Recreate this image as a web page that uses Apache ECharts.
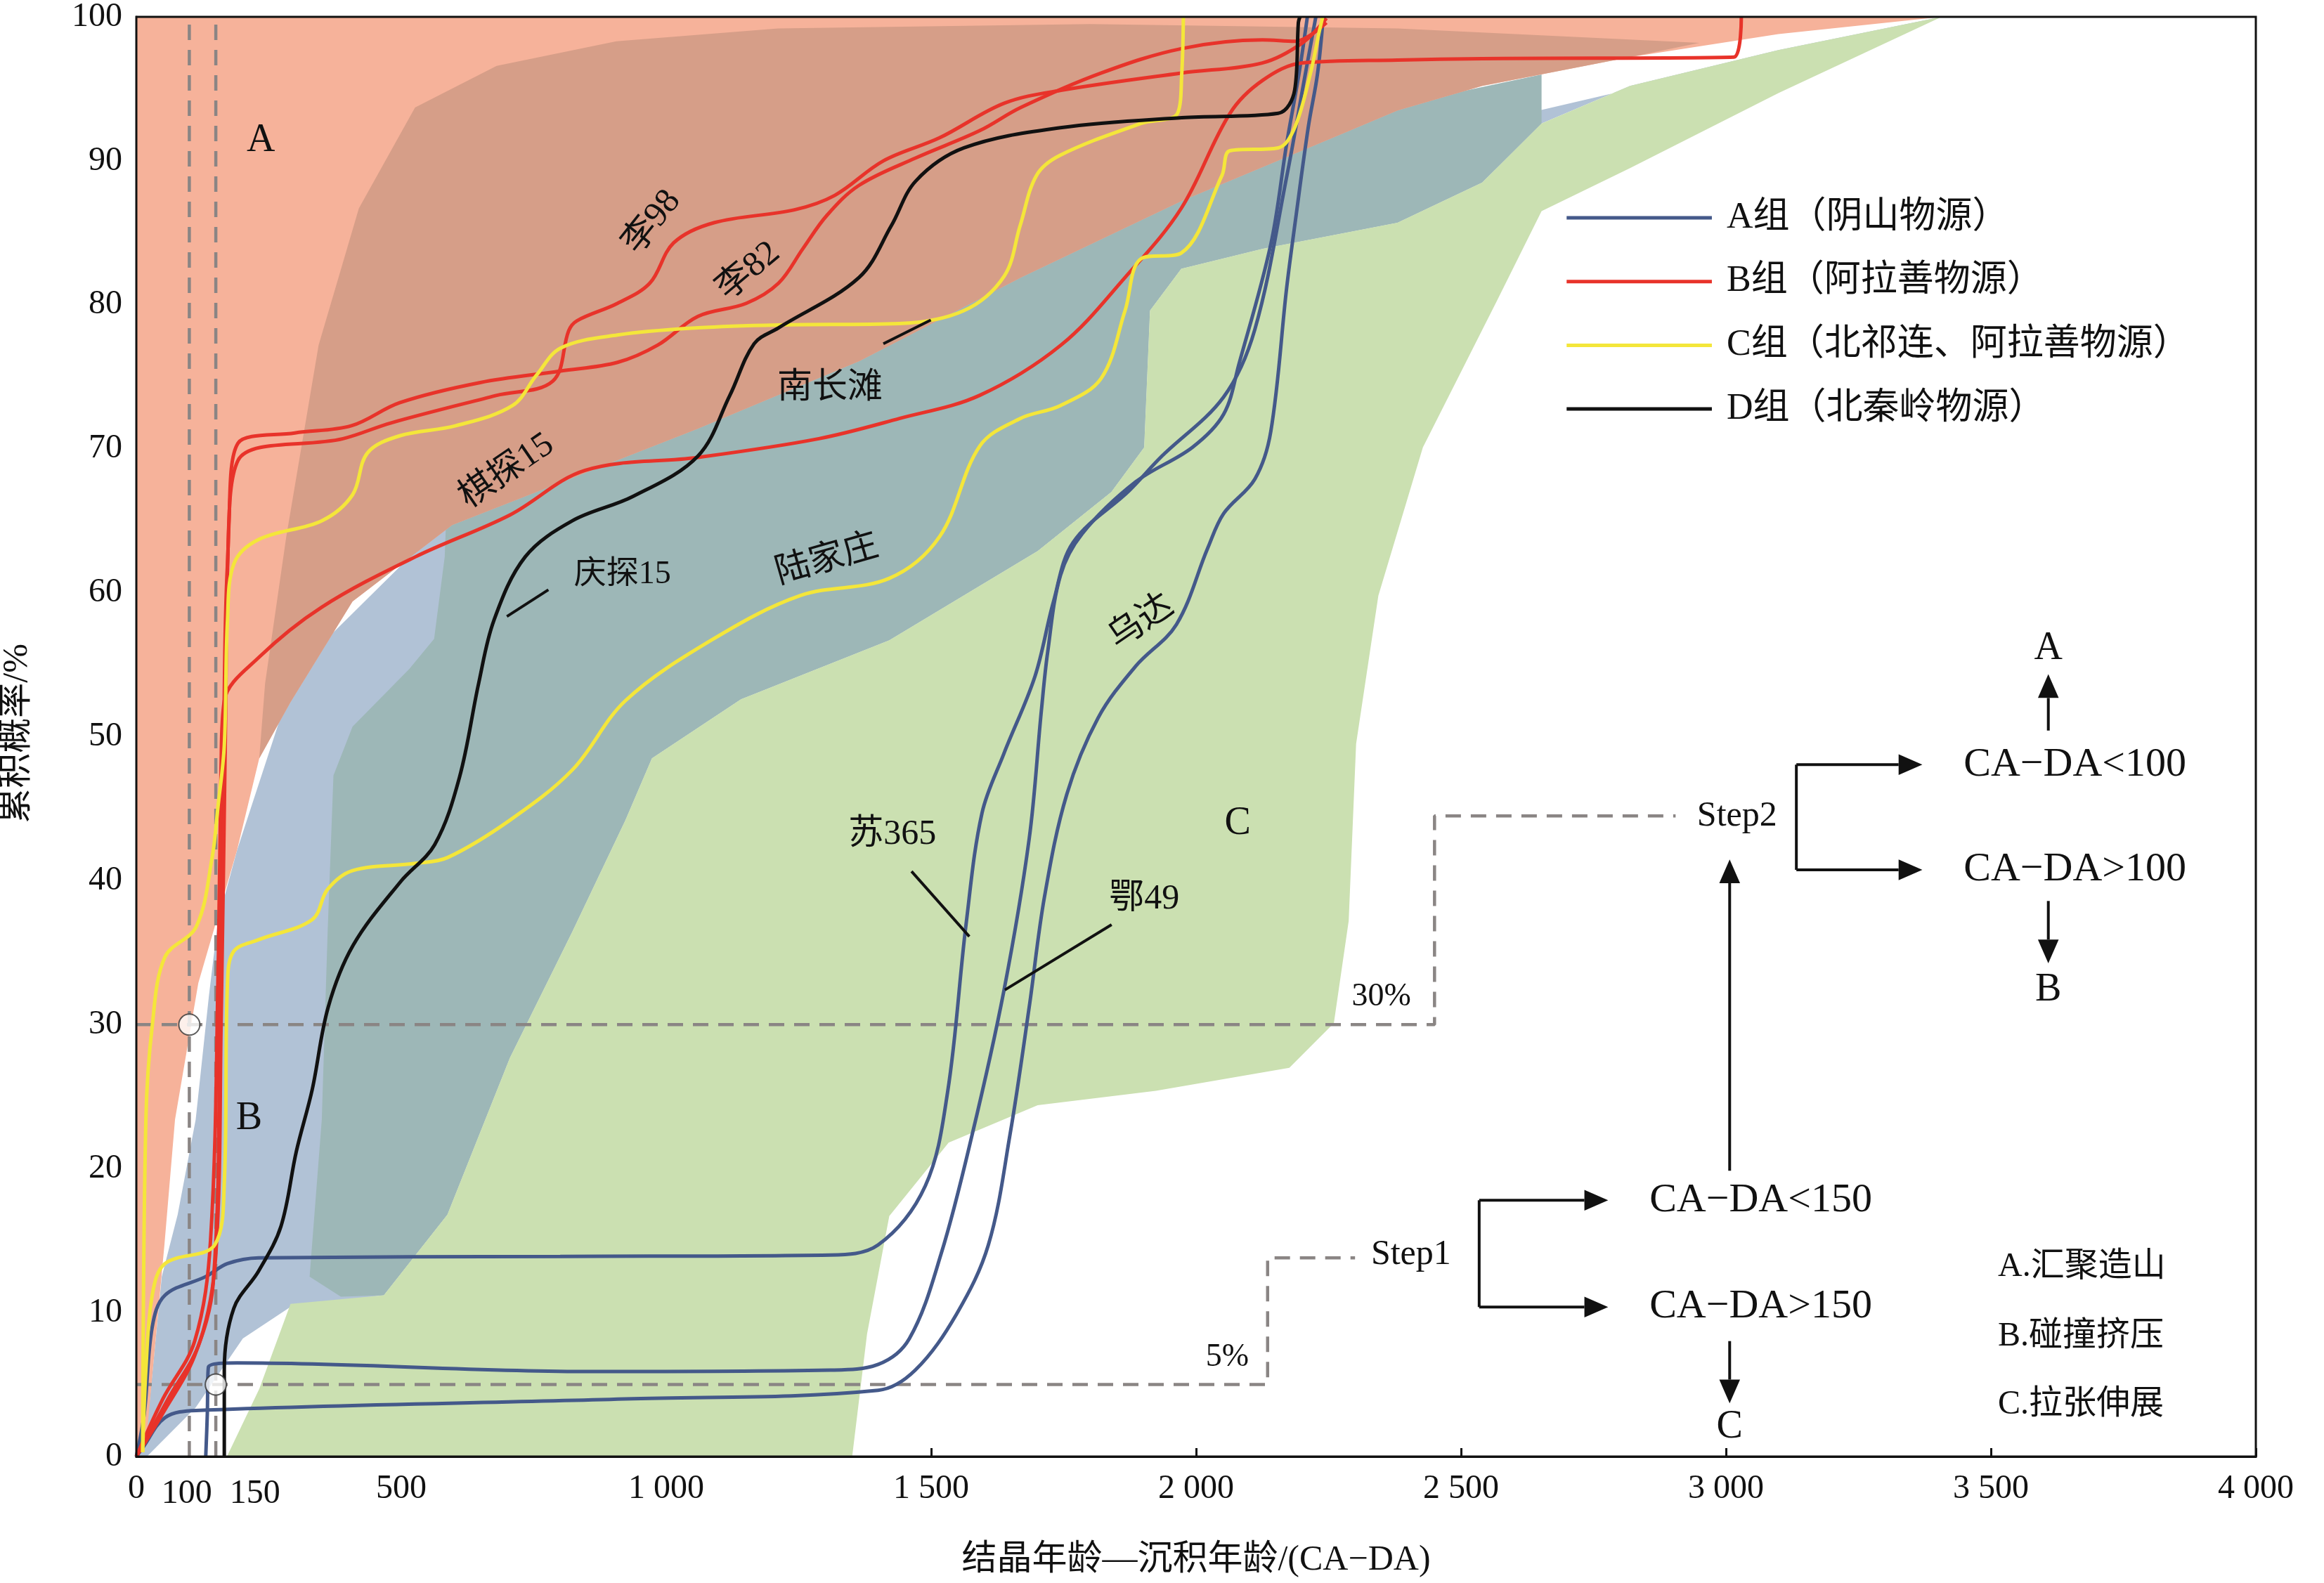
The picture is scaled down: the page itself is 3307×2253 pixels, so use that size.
<!DOCTYPE html>
<html>
<head>
<meta charset="utf-8">
<script src="https://cdn.jsdelivr.net/npm/echarts@6/dist/echarts.min.js"></script>
<style>html,body{margin:0;padding:0;background:#fff}#chart{width:3307px;height:2253px}</style>
</head>
<body>
<div id="chart"></div>
<script>
// --- areas (x = CA-DA, y = cumulative %) ---
var areas = {
  blue: [[0,0],[0,3.4],[25,3.8],[48,12.5],[78,16.8],[112,23.4],[137,32],[154,37.2],[190,42.1],[302,54.7],[582,64.9],[1701,85.4],[3407,100],
    [3099,97.7],[2819,95.2],[2652,92.6],[2540,88.5],[2380,85.7],[2126,83.9],[1972,82.5],[1913,79.6],[1902,70.1],[1840,67],[1701,62.9],[1421,56.7],[1141,52.6],[973,48.5],[923,44.2],[822,36.4],[705,27.7],[587,16.8],[467,11.2],
    [291,10.4],[201,8.2],[112,3.4],[20,0]],
  teal: [[582,62.5],[562,56.8],[515,54.7],[408,50.7],[372,47.3],[361,36.4],[350,23.4],[327,12.5],[386,11.1],[467,11.2],
    [587,16.8],[705,27.7],[822,36.4],[923,44.2],[973,48.5],[1141,52.6],[1421,56.7],[1701,62.9],[1840,67],[1902,70.1],[1913,79.6],[1972,82.5],[2126,83.9],[2380,85.7],[2540,88.5],[2652,92.6],[2652,96],[600,80]],
  salmon: [[0,100],[3407,100],[3099,98.8],[2819,97.2],[2540,95.2],[2380,93.5],[2277,91.9],[1972,87.2],[1670,81.9],[1365,76.1],[1060,71.4],[596,64.7],[408,59.4],[291,52.4],[232,48.5],[190,42.1],[117,32.9],[73,23.4],[53,14.7],[20,1.6],[0,0]],
  brown: [[680,96.6],[906,98.3],[1211,99.2],[1800,99.5],[2380,99.2],[2950,98.2],[2819,97.2],[2540,95.2],[2380,93.5],[2277,91.9],[1972,87.2],[1670,81.9],[1365,76.1],[1060,71.4],[596,64.7],[408,59.4],[291,52.4],[232,48.5],
    [243,53.7],[283,63.9],[344,77.2],[420,86.7],[526,93.7]],
  green: [[171,0],[232,4.7],[291,10.6],[467,11.2],[587,16.8],[705,27.7],[822,36.4],[923,44.2],[973,48.5],[1141,52.6],[1421,56.7],[1701,62.9],[1840,67],[1902,70.1],[1913,79.6],[1972,82.5],[2126,83.9],[2380,85.7],[2540,88.5],[2652,92.6],[2819,95.2],[3099,97.7],[3407,100],
    [3099,94.7],[2819,89.5],[2652,86.5],[2568,80.3],[2428,70.1],[2344,59.8],[2302,49.5],[2288,37.2],[2260,30.1],[2176,27],[1924,25.4],[1701,24.4],[1533,21.8],[1421,16.7],[1379,8.5],[1351,0]]
};
var areaColors = {blue:'#b1c2d6', teal:'#9db7b7', salmon:'#f6b29a', brown:'#d69e88', green:'#cbe0b1'};

// --- curves ---
var curves = [
  {g:'A', c:'#44598a', d:[[0,0],[15,3],[30,9],[54,11.2],[131,12.5],[172,13.4],[231,13.8],[800,13.9],[1309,14.0],[1400,14.7],[1489,18.8],[1531,25.3],[1566,37.0],[1596,44.7],[1637,48.8],[1696,54.2],[1731,59.4],[1768,63.5],[1874,67.1],[1933,69.4],[2052,73.6],[2111,78.3],[2171,88.9],[2206,96.0],[2226,100]]},
  {g:'A', c:'#44598a', d:[[131,0],[134,3],[136,6.2],[190,6.5],[861,5.9],[1309,6.0],[1400,6.4],[1459,8.2],[1519,14.1],[1577,22.3],[1637,32.3],[1685,42.9],[1708,51.8],[1720,55.9],[1744,61.2],[1785,64.1],[1886,67.7],[1993,70.1],[2052,72.4],[2081,75.9],[2141,84.2],[2171,91.2],[2194,96.0],[2210,100]]},
  {g:'A', c:'#44598a', d:[[0,0],[12,0.6],[54,2.7],[113,3.2],[923,4.0],[1400,4.6],[1470,6],[1548,9.9],[1608,14.7],[1649,22.4],[1685,31.2],[1714,38.9],[1756,46.0],[1815,51.3],[1886,54.9],[1963,57.8],[2022,63.1],[2052,65.5],[2111,67.9],[2141,71.2],[2171,81.2],[2188,86],[2212,92.4],[2229,96.0],[2240,100]]},
  {g:'B', c:'#e8332a', d:[[0,0],[60,4],[120,8],[150,14],[160,30],[168,50],[175,65],[192,70.4],[299,71.1],[406,71.6],[497,73.2],[649,74.6],[801,75.4],[908,76.0],[984,77.2],[1060,79.2],[1151,80.1],[1212,81.5],[1258,83.9],[1303,86.2],[1364,88.3],[1471,90.2],[1592,92.1],[1669,93.7],[1821,96.1],[1973,97.8],[2125,98.4],[2186,98.3],[2246,99.6]]},
  {g:'B', c:'#e8332a', d:[[0,0],[50,3],[110,7],[145,12],[158,30],[165,50],[172,62],[192,69.2],[390,70.7],[481,71.8],[679,73.7],[786,74.7],[816,78.2],[832,78.9],[908,80.1],[969,81.5],[1014,84.3],[1090,85.7],[1242,86.6],[1318,87.6],[1410,90.0],[1516,91.6],[1638,94.0],[1745,94.9],[1972,96.1],[2125,96.8],[2201,98.2],[2246,99.9]]},
  {g:'B', c:'#e8332a', d:[[0,0],[50,4],[110,8],[140,15],[155,35],[160,48],[166,52.5],[231,55.5],[350,59],[527,62.5],[705,65.4],[847,68.5],[1060,69.4],[1288,70.7],[1440,72.1],[1591,73.7],[1745,77.2],[1866,81.9],[1972,86.7],[2064,93.3],[2126,95.6],[2201,96.8],[2380,97.0],[2540,97.1],[3015,97.2],[3029,100]]},
  {g:'C', c:'#f4e63a', d:[[12,0.3],[18,23.4],[30,29.9],[54,34.7],[113,36.8],[143,41.6],[154,45.1],[166,49.4],[172,58.1],[184,62.0],[231,63.7],[350,65.0],[408,66.8],[436,69.7],[497,70.9],[603,71.6],[710,73.0],[755,75.1],[801,77.0],[908,77.9],[1060,78.4],[1212,78.6],[1440,78.7],[1562,79.6],[1638,82.0],[1668,85.5],[1699,89.0],[1744,90.4],[1896,92.6],[1965,93.3],[1973,96.1],[1976,100]]},
  {g:'C', c:'#f4e63a', d:[[12,0.3],[18,6.0],[30,11.2],[54,13.4],[148,14.7],[166,19.0],[172,32.9],[184,35.1],[231,35.9],[332,37.3],[361,39.4],[408,40.7],[527,41.2],[587,41.6],[705,44.2],[823,47.7],[923,52.5],[1085,56.7],[1253,59.8],[1421,61.0],[1516,63.9],[1592,70.2],[1668,72.1],[1744,73.0],[1821,74.9],[1866,79.6],[1896,83.2],[1972,83.6],[2049,89.0],[2064,90.7],[2155,90.9],[2186,92.3],[2216,96.1],[2232,98.9],[2239,100]]},
  {g:'D', c:'#111111', d:[[166,0],[166,6.0],[184,10.3],[231,12.9],[273,16.0],[302,21.2],[332,25.5],[362,31.2],[409,35.5],[498,39.9],[563,42.5],[610,47.2],[646,53.7],[675,58.1],[734,62.5],[823,65.0],[938,66.7],[1060,69.5],[1120,73.7],[1166,77.3],[1212,78.4],[1364,81.9],[1425,85.5],[1471,88.6],[1562,90.9],[1744,92.3],[1973,93.0],[2155,93.3],[2186,94.9],[2193,99.6],[2196,100]]}
];

var dashed = [
  [[100,0],[100,100]],
  [[150,0],[150,100]],
  [[0,30],[2450,30],[2450,44.5],[2905,44.5]],
  [[0,5],[2135,5],[2135,13.8],[2300,13.8]]
];

var S = 3307 / 1568;
var FONT = '"Liberation Serif","Noto Sans CJK SC",serif';
var chart = echarts.init(document.getElementById('chart'));

var series = [];
['blue','teal','salmon','brown','green'].forEach(function (k) {
  series.push({
    type: 'custom', z: 1, silent: true, clip: true, data: [0],
    renderItem: function (params, api) {
      var pts = areas[k].map(function (p) { return api.coord(p); });
      return { type: 'polygon', shape: { points: pts }, style: { fill: areaColors[k] } };
    }
  });
});
dashed.forEach(function (d) {
  series.push({ type: 'line', data: d, symbol: 'none', z: 3, silent: true,
    lineStyle: { color: '#8a8584', width: 4.5, type: [22, 14] } });
});
curves.forEach(function (cv) {
  series.push({ type: 'line', data: cv.d, symbol: 'none', smooth: 0.35, z: 4, clip: true,
    lineStyle: { color: cv.c, width: 5 } });
});
series.push({ type: 'scatter', data: [[100,30],[150,5]], symbolSize: 30, z: 6,
  itemStyle: { color: '#fff', borderColor: '#333', borderWidth: 2 } });

// --- annotations (reference pixel units) ---
function T(x, y, s, opt) {
  opt = opt || {};
  return { type: 'text', x: x * S, y: y * S, rotation: opt.r || 0, z: 20,
    style: { text: s, font: (opt.size || 50) + 'px ' + FONT, fill: '#111',
      align: opt.align || 'center', verticalAlign: 'middle' } };
}
function L(pts, w, color) {
  return { type: 'polyline', z: 20, shape: { points: pts.map(function (p) { return [p[0] * S, p[1] * S]; }) },
    style: { stroke: color || '#111', lineWidth: w || 4, fill: null } };
}
function arrow(x1, y1, x2, y2) {
  var dx = x2 - x1, dy = y2 - y1, len = Math.sqrt(dx * dx + dy * dy), ux = dx / len, uy = dy / len;
  var h = 16, w = 7;
  var bx = x2 - ux * h, by = y2 - uy * h;
  return [L([[x1, y1], [bx, by]], 4),
    { type: 'polygon', z: 20, shape: { points: [[x2 * S, y2 * S], [(bx - uy * w) * S, (by + ux * w) * S], [(bx + uy * w) * S, (by - ux * w) * S]] }, style: { fill: '#111' } }];
}
var g = [];
g.push(T(176, 95, 'A', {size: 56}), T(168, 755, 'B', {size: 56}), T(835, 556, 'C', {size: 56}));
g.push(T(440, 150, '李98', {r: 0.9}), T(505, 183, '李82', {r: 0.7}), T(342, 318, '棋探15', {r: 0.6}));
g.push(T(560, 262, '南长滩'), L([[596, 232], [628, 216]]));
g.push(T(420, 388, '庆探15', {size: 46}), L([[342, 416], [370, 398]]));
g.push(T(558, 378, '陆家庄', {r: 0.28}), T(770, 420, '乌达', {r: 0.6}));
g.push(T(602, 563, '苏365'), L([[615, 588], [654, 632]]));
g.push(T(772, 607, '鄂49'), L([[678, 668], [750, 624]]));
g.push(T(932, 673, '30%', {size: 46}), T(828, 916, '5%', {size: 46}));
g.push(T(952, 847, 'Step1'), T(1172, 551, 'Step2'));
g.push(T(1188, 810, 'CA−DA<150', {size: 58}), T(1188, 882, 'CA−DA>150', {size: 58}));
g.push(T(1400, 516, 'CA−DA<100', {size: 58}), T(1400, 587, 'CA−DA>100', {size: 58}));
g.push(T(1167, 963, 'C', {size: 56}), T(1382, 438, 'A', {size: 56}), T(1382, 668, 'B', {size: 56}));
g.push(T(1348, 855, 'A.汇聚造山', {align: 'left', size: 48}), T(1348, 902, 'B.碰撞挤压', {align: 'left', size: 48}), T(1348, 948, 'C.拉张伸展', {align: 'left', size: 48}));
g.push(L([[998, 810], [998, 882]]), L([[1212, 516], [1212, 587]]));
g = g.concat(arrow(998, 810, 1085, 810), arrow(998, 882, 1085, 882), arrow(1212, 516, 1297, 516), arrow(1212, 587, 1297, 587),
  arrow(1167, 905, 1167, 947), arrow(1167, 790, 1167, 580), arrow(1382, 493, 1382, 455), arrow(1382, 608, 1382, 650));
var leg = [['#44598a', 'A组（阴山物源）'], ['#e8332a', 'B组（阿拉善物源）'], ['#f4e63a', 'C组（北祁连、阿拉善物源）'], ['#111111', 'D组（北秦岭物源）']];
leg.forEach(function (l, i) {
  var y = 147 + i * 43;
  g.push(L([[1057, y], [1155, y]], 5, l[0]), T(1165, y, l[1], {align: 'left', size: 52}));
});
g.push(T(12, 495, '累积概率/%', {r: Math.PI / 2, size: 50}));
g.push(T(807, 1053, '结晶年龄—沉积年龄/(CA−DA)', {size: 50}));
// crowded small-value tick labels, placed a little apart as in the original
g.push(T(126, 1008, '100', {size: 48}), T(172, 1008, '150', {size: 48}));

var xLabels = [0, 500, 1000, 1500, 2000, 2500, 3000, 3500, 4000];
var xTicks = [0, 100, 150, 500, 1000, 1500, 2000, 2500, 3000, 3500, 4000];
var option = {
  backgroundColor: '#fff',
  animation: false,
  grid: { left: 194, right: 97, top: 17, bottom: 180, show: true, borderColor: '#111', borderWidth: 3, backgroundColor: 'transparent', z: 10 },
  xAxis: {
    type: 'value', min: 0, max: 4000, interval: 500,
    splitLine: { show: false },
    axisLine: { lineStyle: { color: '#111', width: 3 } },
    axisTick: { inside: true, length: 12, lineStyle: { color: '#111', width: 3 }, customValues: xTicks },
    axisLabel: { customValues: xLabels, margin: 22, color: '#111', fontSize: 48, fontFamily: FONT,
      formatter: function (v) { return v >= 1000 ? String(v).replace(/(\d)(\d{3})$/, '$1 $2') : String(v); } }
  },
  yAxis: {
    type: 'value', min: 0, max: 100, interval: 10,
    splitLine: { show: false },
    axisLine: { lineStyle: { color: '#111', width: 3 } },
    axisTick: { inside: true, length: 12, lineStyle: { color: '#111', width: 3 } },
    axisLabel: { margin: 20, color: '#111', fontSize: 48, fontFamily: FONT }
  },
  series: series,
  graphic: g
};
chart.setOption(option);
</script>
</body>
</html>
